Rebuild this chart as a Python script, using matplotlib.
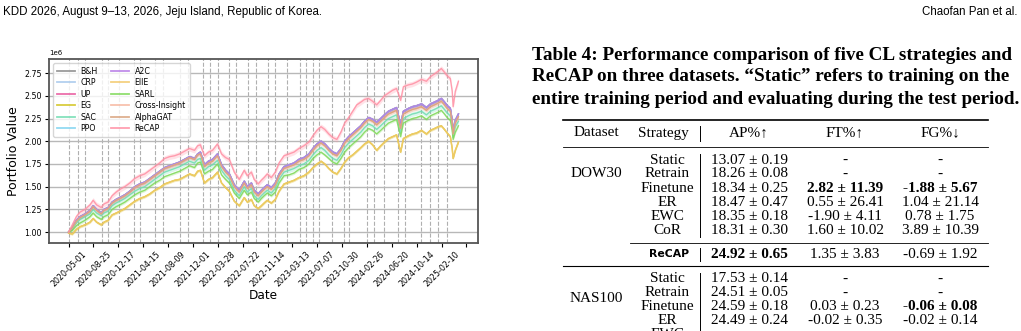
import numpy as np
import matplotlib.pyplot as plt
from matplotlib.lines import Line2D

# trading-day index of each sampled point (0 = 2020-05-01)
days = [0, 12, 25, 37, 53, 69, 79, 90, 105, 114,
        127, 140, 153, 165, 181, 197, 213, 229, 245, 261,
        277, 293, 309, 325, 341, 357, 373, 389, 405, 415,
        424, 437, 450, 463, 479, 492, 505, 517, 533, 549,
        565, 575, 588, 597, 610, 620, 629, 639, 652, 665,
        677, 693, 709, 725, 741, 757, 773, 786, 799, 812,
        824, 837, 850, 863, 876, 888, 901, 914, 927, 940,
        952, 965, 978, 991, 1004, 1016, 1029, 1042, 1055, 1068,
        1077, 1093, 1106, 1119, 1135, 1151, 1164, 1177, 1189, 1199,
        1209, 1218, 1228, 1234, 1237, 1244, 1254]

# portfolio value, millions
recap = [1.00, 1.08, 1.17, 1.22, 1.25, 1.30, 1.35, 1.30, 1.27, 1.31,
         1.33, 1.40, 1.44, 1.47, 1.50, 1.54, 1.59, 1.62, 1.64, 1.68,
         1.72, 1.76, 1.81, 1.83, 1.84, 1.86, 1.89, 1.92, 1.90, 1.95,
         1.96, 1.84, 1.88, 1.90, 1.97, 1.86, 1.82, 1.80, 1.66, 1.58,
         1.68, 1.62, 1.66, 1.58, 1.53, 1.57, 1.60, 1.64, 1.60, 1.66,
         1.76, 1.84, 1.86, 1.88, 1.92, 1.95, 1.99, 2.06, 2.12, 2.16,
         2.13, 2.08, 2.04, 2.02, 2.10, 2.20, 2.26, 2.33, 2.40, 2.43,
         2.46, 2.47, 2.44, 2.40, 2.45, 2.50, 2.53, 2.56, 2.58, 2.45,
         2.60, 2.62, 2.63, 2.65, 2.68, 2.66, 2.71, 2.74, 2.77, 2.80,
         2.76, 2.72, 2.69, 2.55, 2.38, 2.55, 2.66]

upper = [1.00, 1.05, 1.13, 1.17, 1.20, 1.24, 1.29, 1.25, 1.21, 1.25,
         1.27, 1.33, 1.36, 1.38, 1.41, 1.45, 1.50, 1.53, 1.55, 1.59,
         1.63, 1.67, 1.71, 1.73, 1.75, 1.77, 1.80, 1.83, 1.81, 1.86,
         1.88, 1.74, 1.78, 1.80, 1.86, 1.74, 1.68, 1.64, 1.52, 1.46,
         1.56, 1.50, 1.54, 1.46, 1.42, 1.46, 1.49, 1.52, 1.49, 1.54,
         1.64, 1.72, 1.74, 1.76, 1.80, 1.82, 1.86, 1.92, 1.97, 2.00,
         1.97, 1.92, 1.88, 1.86, 1.92, 2.00, 2.05, 2.09, 2.13, 2.17,
         2.22, 2.26, 2.24, 2.21, 2.25, 2.29, 2.33, 2.35, 2.37, 2.18,
         2.33, 2.36, 2.38, 2.39, 2.41, 2.37, 2.41, 2.43, 2.45, 2.47,
         2.43, 2.39, 2.36, 2.23, 2.11, 2.23, 2.30]

middle = [1.00, 1.05, 1.12, 1.16, 1.19, 1.23, 1.28, 1.24, 1.20, 1.24,
          1.26, 1.32, 1.35, 1.37, 1.40, 1.44, 1.49, 1.52, 1.54, 1.58,
          1.62, 1.66, 1.70, 1.72, 1.74, 1.76, 1.79, 1.82, 1.80, 1.85,
          1.86, 1.72, 1.76, 1.78, 1.84, 1.72, 1.66, 1.62, 1.50, 1.44,
          1.54, 1.48, 1.52, 1.44, 1.40, 1.44, 1.47, 1.50, 1.47, 1.52,
          1.62, 1.70, 1.72, 1.74, 1.78, 1.80, 1.84, 1.90, 1.95, 1.98,
          1.95, 1.90, 1.86, 1.84, 1.90, 1.98, 2.03, 2.07, 2.11, 2.15,
          2.20, 2.24, 2.22, 2.18, 2.22, 2.26, 2.30, 2.32, 2.34, 2.14,
          2.30, 2.33, 2.35, 2.36, 2.38, 2.34, 2.38, 2.40, 2.42, 2.44,
          2.40, 2.36, 2.33, 2.20, 2.08, 2.20, 2.27]

sac = [1.00, 1.04, 1.10, 1.14, 1.17, 1.20, 1.25, 1.21, 1.18, 1.21,
       1.23, 1.29, 1.32, 1.34, 1.37, 1.41, 1.45, 1.48, 1.50, 1.54,
       1.58, 1.62, 1.66, 1.68, 1.70, 1.72, 1.75, 1.78, 1.76, 1.80,
       1.81, 1.68, 1.72, 1.74, 1.79, 1.68, 1.62, 1.58, 1.46, 1.40,
       1.50, 1.44, 1.48, 1.40, 1.36, 1.40, 1.43, 1.46, 1.43, 1.48,
       1.58, 1.66, 1.68, 1.70, 1.73, 1.75, 1.79, 1.85, 1.90, 1.93,
       1.90, 1.85, 1.81, 1.79, 1.85, 1.93, 1.98, 2.02, 2.06, 2.10,
       2.15, 2.19, 2.17, 2.13, 2.17, 2.21, 2.25, 2.27, 2.29, 2.09,
       2.25, 2.28, 2.30, 2.31, 2.33, 2.29, 2.33, 2.35, 2.37, 2.39,
       2.35, 2.31, 2.28, 2.16, 2.04, 2.16, 2.22]

sarl = [1.00, 1.02, 1.07, 1.10, 1.13, 1.17, 1.21, 1.17, 1.14, 1.17,
        1.19, 1.25, 1.28, 1.30, 1.33, 1.37, 1.41, 1.44, 1.46, 1.50,
        1.54, 1.57, 1.61, 1.63, 1.65, 1.67, 1.70, 1.73, 1.71, 1.76,
        1.77, 1.64, 1.67, 1.69, 1.75, 1.63, 1.58, 1.54, 1.43, 1.37,
        1.46, 1.41, 1.44, 1.37, 1.33, 1.37, 1.40, 1.43, 1.40, 1.44,
        1.54, 1.62, 1.63, 1.65, 1.69, 1.71, 1.75, 1.81, 1.85, 1.88,
        1.85, 1.81, 1.77, 1.75, 1.81, 1.88, 1.93, 1.97, 2.01, 2.05,
        2.10, 2.14, 2.12, 2.08, 2.12, 2.16, 2.20, 2.22, 2.24, 2.05,
        2.20, 2.23, 2.25, 2.26, 2.28, 2.24, 2.28, 2.30, 2.32, 2.34,
        2.30, 2.26, 2.23, 2.12, 2.02, 2.10, 2.17]

lower = [0.99, 0.98, 1.03, 1.06, 1.08, 1.11, 1.15, 1.11, 1.08, 1.11,
         1.13, 1.19, 1.21, 1.23, 1.26, 1.30, 1.34, 1.37, 1.39, 1.42,
         1.46, 1.49, 1.53, 1.55, 1.57, 1.58, 1.61, 1.64, 1.62, 1.67,
         1.68, 1.54, 1.58, 1.60, 1.66, 1.54, 1.49, 1.45, 1.34, 1.29,
         1.38, 1.33, 1.36, 1.29, 1.26, 1.29, 1.32, 1.35, 1.32, 1.36,
         1.45, 1.53, 1.55, 1.57, 1.60, 1.62, 1.66, 1.71, 1.75, 1.78,
         1.75, 1.70, 1.66, 1.64, 1.70, 1.77, 1.82, 1.85, 1.89, 1.93,
         1.97, 2.00, 1.96, 1.90, 1.95, 1.99, 2.03, 2.05, 2.07, 1.88,
         2.03, 2.06, 2.08, 2.09, 2.12, 2.08, 2.12, 2.14, 2.16, 2.17,
         2.13, 2.09, 2.05, 1.92, 1.81, 1.90, 1.99]

strategies = ["B&H", "CRP", "UP", "EG", "SAC", "PPO",
              "A2C", "EIIE", "SARL", "Cross-Insight", "AlphaGAT", "ReCAP"]
series = {"B&H": upper, "CRP": upper, "UP": upper, "EG": lower, "SAC": sac,
          "PPO": upper, "A2C": upper, "EIIE": lower, "SARL": sarl,
          "Cross-Insight": middle, "AlphaGAT": middle, "ReCAP": recap}
# std across runs, millions
spread = {"B&H": 0.01, "CRP": 0.015, "UP": 0.015, "EG": 0.012, "SAC": 0.025,
          "PPO": 0.015, "A2C": 0.02, "EIIE": 0.015, "SARL": 0.015,
          "Cross-Insight": 0.02, "AlphaGAT": 0.02, "ReCAP": 0.03}
colors = {"B&H": "#8a8a8a", "CRP": "#a6c8ec", "UP": "#e8559c", "EG": "#d2c41e",
          "SAC": "#6fdcb0", "PPO": "#7fd3f0", "A2C": "#b57ae6", "EIIE": "#f3c96b",
          "SARL": "#7ed957", "Cross-Insight": "#f7b7a0", "AlphaGAT": "#d9a27c",
          "ReCAP": "#ff8fa3"}

# retraining boundaries (trading-day index)
boundaries = [0, 29, 52, 107, 128, 163, 212, 231, 279, 304, 357, 383, 432, 455,
              482, 517, 539, 576, 603, 643, 663, 703, 744, 763, 786, 806, 848,
              886, 902, 960, 981, 1015, 1061, 1082, 1134, 1164, 1189, 1216]

tick_days = list(range(0, 1281, 80))
tick_dates = ["2020-05-01", "2020-08-25", "2020-12-17", "2021-04-15", "2021-08-09",
              "2021-12-01", "2022-03-28", "2022-07-22", "2022-11-14", "2023-03-13",
              "2023-07-07", "2023-10-30", "2024-02-26", "2024-06-20", "2024-10-14",
              "2025-02-10", ""]

# table 4
dow_strat = ["Static", "Retrain", "Finetune", "ER", "EWC", "CoR"]
dow_ap = ["13.07 ± 0.19", "18.26 ± 0.08", "18.34 ± 0.25", "18.47 ± 0.47", "18.35 ± 0.18", "18.31 ± 0.30"]
dow_ft = ["-", "-", "2.82 ± 11.39", "0.55 ± 26.41", "-1.90 ± 4.11", "1.60 ± 10.02"]
dow_fg = ["-", "-", "-1.88 ± 5.67", "1.04 ± 21.14", "0.78 ± 1.75", "3.89 ± 10.39"]
recap_row = ["24.92 ± 0.65", "1.35 ± 3.83", "-0.69 ± 1.92"]
nas_strat = ["Static", "Retrain", "Finetune", "ER", "EWC"]
nas_ap = ["17.53 ± 0.14", "24.51 ± 0.05", "24.59 ± 0.18", "24.49 ± 0.24", ""]
nas_ft = ["-", "-", "0.03 ± 0.23", "-0.02 ± 0.35", ""]
nas_fg = ["-", "-", "-0.06 ± 0.08", "-0.02 ± 0.14", ""]
bold_cells = {("DOW30", 2, 1), ("DOW30", 2, 2), ("NAS100", 2, 2)}

W, H = 1021, 331
fig = plt.figure(figsize=(W / 100, H / 100), dpi=100)


def fx(x):
    return x / W


def fy(y):
    return 1 - y / H


ax = fig.add_axes([fx(49), fy(243), fx(478) - fx(49), fy(59) - fy(243)])
x = np.array(days)
for name in strategies:
    v = np.array(series[name]) * 1e6
    s = spread[name] * 1e6
    ax.fill_between(x, v - s, v + s, color=colors[name], alpha=0.25, lw=0)
    ax.plot(x, v, color=colors[name], lw=1.0, alpha=0.85, label=name)

for b in boundaries:
    ax.axvline(b, color="#b0b0b0", ls="--", lw=0.8, zorder=0)

ax.set_xlim(-63, 1317)
ax.set_ylim(0.88e6, 2.905e6)
ax.set_yticks(np.arange(1.0, 2.76, 0.25) * 1e6)
ax.yaxis.grid(True, color="#b8b8b8", lw=1.0)
ax.set_axisbelow(True)
ax.set_xticks(tick_days)
ax.set_xticklabels(tick_dates, rotation=45, ha="center", fontsize=5.7)
ax.tick_params(axis="both", labelsize=5.7, length=3, pad=2)
ax.yaxis.get_offset_text().set_fontsize(5)
for sp in ax.spines.values():
    sp.set_color("#555555")
    sp.set_linewidth(1.3)
ax.set_xlabel("Date", fontsize=8.7, labelpad=0)
ax.set_ylabel("Portfolio Value", fontsize=9, labelpad=3)
leg = ax.legend(loc="upper left", ncol=2, fontsize=5.7, labelspacing=0.32,
                handlelength=2.3, handletextpad=0.7, columnspacing=1.7,
                borderaxespad=0.5, borderpad=0.45)
for h in leg.get_lines():
    h.set_linewidth(1.3)

# page header
hdr = ["Liberation Sans", "DejaVu Sans"]
fig.text(fx(3), fy(12), "KDD 2026, August 9–13, 2026, Jeju Island, Republic of Korea.",
         family=hdr, fontsize=8.3, va="center", ha="left")
fig.text(fx(1017), fy(12), "Chaofan Pan et al.", family=hdr, fontsize=8.3,
         va="center", ha="right")

# caption
serif = ["Liberation Serif", "DejaVu Serif"]
caption = ["Table 4: Performance comparison of five CL strategies and",
           "ReCAP on three datasets. “Static” refers to training on the",
           "entire training period and evaluating during the test period."]
for i, line in enumerate(caption):
    fig.text(fx(532), fy(55 + 22 * i), line, family=serif, fontsize=13.8,
             weight="bold", va="center", ha="left")


def hline(y, x0, x1, lw):
    fig.add_artist(Line2D([fx(x0), fx(x1)], [fy(y), fy(y)], color="black", lw=lw))


def vline(x0, y0, y1):
    fig.add_artist(Line2D([fx(x0), fx(x0)], [fy(y0), fy(y1)], color="black", lw=0.7))


col_x = {"data": 596, "strat": 667, "ap": 749, "ft": 845, "fg": 940}
tsize = 11

hline(120, 563, 988, 1.2)
fig.text(fx(col_x["data"]), fy(133), "Dataset", family=serif, fontsize=tsize, ha="center", va="center")
fig.text(fx(663), fy(133), "Strategy", family=serif, fontsize=tsize, ha="center", va="center")
vline(700, 126, 141)
for key, lab in [("ap", "AP%↑"), ("ft", "FT%↑"), ("fg", "FG%↓")]:
    fig.text(fx(col_x[key]), fy(133), lab, family=serif, fontsize=tsize, ha="center", va="center")
hline(147, 563, 988, 0.6)


def block(name, y0, strat, ap, ft, fg, name_y):
    fig.text(fx(col_x["data"]), fy(name_y), name, family=serif, fontsize=tsize,
             ha="center", va="center")
    for i, st in enumerate(strat):
        y = y0 + 14 * i
        fig.text(fx(col_x["strat"]), fy(y), st, family=serif, fontsize=tsize, ha="center", va="center")
        for j, (key, vals) in enumerate([("ap", ap), ("ft", ft), ("fg", fg)]):
            w = "bold" if (name, i, j) in bold_cells else "normal"
            fig.text(fx(col_x[key]), fy(y), vals[i], family=serif, fontsize=tsize,
                     weight=w, ha="center", va="center")


block("DOW30", 160, dow_strat, dow_ap, dow_ft, dow_fg, 174)
vline(700, 154, 237)
hline(243, 630, 988, 0.6)
fig.text(fx(669), fy(254), "ReCAP", family=["DejaVu Sans"], fontsize=7.8,
         weight="bold", ha="center", va="center")
vline(700, 248, 261)
for j, key in enumerate(["ap", "ft", "fg"]):
    fig.text(fx(col_x[key]), fy(254), recap_row[j], family=serif, fontsize=tsize,
             weight="bold" if j == 0 else "normal", ha="center", va="center")
hline(266, 563, 988, 0.8)
block("NAS100", 279, nas_strat, nas_ap, nas_ft, nas_fg, 298)
vline(700, 273, 331)

fig.savefig("out.png", dpi=100)
